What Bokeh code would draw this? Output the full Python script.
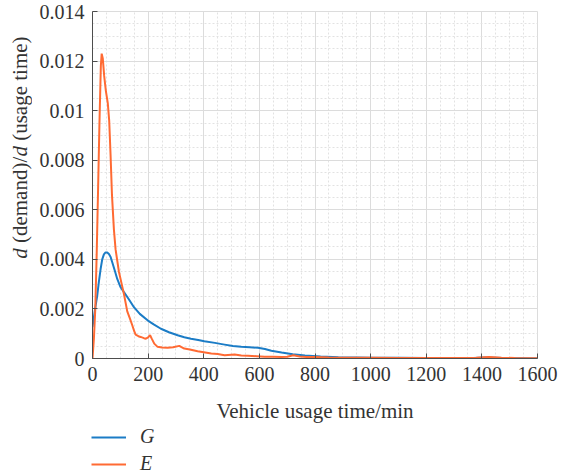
from math import pi

from bokeh.embed import file_html
from bokeh.layouts import column, row
from bokeh.models import FixedTicker, Legend, LegendItem
from bokeh.plotting import figure
from bokeh.resources import INLINE

# Demand density per minute of vehicle usage time, two vehicle groups
usage_g = [0, 8, 17, 23, 29, 35, 41, 47, 53, 59,
           65, 71, 80, 89, 100, 113, 130, 149, 170, 198,
           220, 246, 275, 306, 330, 354, 380, 402, 440, 475,
           505, 535, 565, 595, 620, 643, 680, 720, 764, 820,
           884, 950, 1005, 1100, 1200, 1300, 1370, 1410, 1450, 1500,
           1550, 1600]
demand_g = [0.00127, 0.0019, 0.00254, 0.0031, 0.0036, 0.0040, 0.0042, 0.00428, 0.00428, 0.00422,
            0.0041, 0.00388, 0.00355, 0.00321, 0.0029, 0.00268, 0.0024, 0.00207, 0.0018, 0.00154,
            0.00138, 0.0012, 0.00106, 0.00094, 0.00086, 0.0008, 0.00075, 0.0007, 0.00063, 0.00056,
            0.0005, 0.00047, 0.00045, 0.00043, 0.00038, 0.00031, 0.00024, 0.00017, 0.00012, 0.00008,
            0.00005, 0.00004, 0.00003, 0.00003, 0.00002, 0.00002, 0.00002, 0.00004, 0.00003, 0.00001,
            0.00001, 0.0]

usage_e = [0, 5, 10, 15, 20, 25, 30, 33, 37, 42,
           48, 55, 60, 65, 70, 77, 83, 95, 105, 113,
           125, 135, 143, 150, 155, 165, 173, 185, 192, 200,
           207, 213, 222, 234, 250, 270, 290, 312, 320, 330,
           350, 378, 400, 427, 450, 475, 511, 535, 559, 590,
           619, 650, 680, 700, 722, 745, 770, 800, 850, 900,
           1000, 1100, 1200, 1300, 1380, 1426, 1470, 1520, 1600]
demand_e = [0.0, 0.0008, 0.002, 0.0042, 0.0068, 0.0095, 0.0118, 0.0123, 0.0121, 0.0114,
            0.0108, 0.0103, 0.0096, 0.0082, 0.0066, 0.0052, 0.0044, 0.0035, 0.0030, 0.0026,
            0.0019, 0.0016, 0.00134, 0.0011, 0.00096, 0.0009, 0.00087, 0.00082, 0.0008, 0.00085,
            0.00094, 0.0008, 0.0006, 0.00047, 0.00044, 0.00043, 0.00045, 0.00051, 0.00046, 0.0004,
            0.00036, 0.00029, 0.00025, 0.0002, 0.00018, 0.00013, 0.00016, 0.00012, 0.00011, 0.00009,
            0.00007, 0.00007, 0.00006, 0.00007, 0.00013, 0.00008, 0.00006, 0.00006, 0.00004, 0.00003,
            0.00003, 0.00002, 0.00002, 0.00002, 0.00003, 0.00006, 0.00003, 0.00002, 0.00001]

series_names = ["G", "E"]
series_colors = ["#1b7cc6", "#ff6a33"]

x_ticks = [0, 200, 400, 600, 800, 1000, 1200, 1400, 1600]
x_tick_labels = ["0", "200", "400", "600", "800", "1000", "1200", "1400", "1600"]
y_ticks = [0, 0.002, 0.004, 0.006, 0.008, 0.01, 0.012, 0.014]
y_tick_labels = ["0", "0.002", "0.004", "0.006", "0.008", "0.01", "0.012", "0.014"]
x_minor = list(range(0, 1601, 50))
y_minor = [i * 0.0005 for i in range(29)]

x_label = "Vehicle usage time/min"
# y title pieces: (text, font style, advance width in px at 21px Liberation Serif,
#                  space after the piece)
y_label_parts = [("d", "italic", 10.5, 5.25), ("(demand)/", "normal", 86.3, 0.5),
                 ("d", "italic", 10.5, 5.25), ("(usage time)", "normal", 104.4, 0.0)]

SERIF = "Liberation Serif"
AXIS_GREY = "#4d4d4d"
TEXT = "#333333"

PAGE_W, PAGE_H = 565, 475
STRIP_W = 32          # column holding the rotated y title
CHART_H = 425         # main chart height; the legend strip fills the rest
LEGEND_H = PAGE_H - CHART_H
BORDER_TOP, BORDER_BOTTOM = 11, 66
FRAME_H = CHART_H - BORDER_TOP - BORDER_BOTTOM


def bare(fig):
    fig.outline_line_color = None
    fig.background_fill_color = "white"
    fig.border_fill_color = "white"
    fig.grid.visible = False
    return fig


# ---- main chart -----------------------------------------------------------
p = figure(width=PAGE_W - STRIP_W, height=CHART_H,
           x_range=(0, 1600), y_range=(0, 0.014),
           output_backend="svg", toolbar_location=None,
           min_border_left=92 - STRIP_W, min_border_right=28,
           min_border_top=BORDER_TOP, min_border_bottom=BORDER_BOTTOM)

p.xaxis.ticker = FixedTicker(ticks=x_ticks, minor_ticks=x_minor)
p.yaxis.ticker = FixedTicker(ticks=y_ticks, minor_ticks=y_minor)
p.xaxis.major_label_overrides = dict(zip(x_ticks, x_tick_labels))
p.yaxis.major_label_overrides = dict(zip(y_ticks, y_tick_labels))

for ax in (p.xaxis[0], p.yaxis[0]):
    ax.axis_line_color = AXIS_GREY
    ax.axis_line_width = 1
    ax.major_tick_line_color = AXIS_GREY
    ax.major_tick_in = 5
    ax.major_tick_out = 0
    ax.minor_tick_in = 0
    ax.minor_tick_out = 0
    ax.major_label_text_font = SERIF
    ax.major_label_text_font_size = "20px"
    ax.major_label_text_color = TEXT
    ax.major_label_standoff = 8

p.xaxis.axis_label = x_label
p.xaxis.axis_label_text_font = SERIF
p.xaxis.axis_label_text_font_size = "21px"
p.xaxis.axis_label_text_font_style = "normal"
p.xaxis.axis_label_text_color = TEXT
p.xaxis.axis_label_standoff = 15

for g in (p.xgrid[0], p.ygrid[0]):
    g.grid_line_color = "#dcdcdc"
    g.grid_line_width = 1
    g.minor_grid_line_color = "#e2e2e2"
    g.minor_grid_line_dash = "2 2"
    g.minor_grid_line_width = 1

p.outline_line_color = "#dcdcdc"
p.background_fill_color = "white"
p.border_fill_color = "white"

p.line(usage_g, demand_g, line_color=series_colors[0], line_width=2)
p.line(usage_e, demand_e, line_color=series_colors[1], line_width=2)

# ---- rotated y title (differentials in italic) ----------------------------
# same top/bottom borders as the chart, so its frame spans the chart's frame;
# the y range is in pixels measured up from the chart's x axis
t = bare(figure(width=STRIP_W, height=CHART_H,
                x_range=(0, STRIP_W), y_range=(0, FRAME_H),
                output_backend="svg", toolbar_location=None,
                x_axis_location=None, y_axis_location=None,
                min_border_left=0, min_border_right=0,
                min_border_top=BORDER_TOP, min_border_bottom=BORDER_BOTTOM))

pos = 100.0
for txt, style, w, after in y_label_parts:
    t.text(x=[19], y=[pos], text=[txt], angle=pi / 2,
           text_font={"value": SERIF}, text_font_style=style,
           text_font_size="21px", text_color=TEXT,
           text_align="left", text_baseline="middle")
    pos += w + after

# ---- legend strip under the chart -----------------------------------------
# the key renderers reuse the series but sit outside this strip's y range
lf = bare(figure(width=PAGE_W, height=LEGEND_H,
                 x_range=(0, 1), y_range=(1, 2),
                 output_backend="svg", toolbar_location=None,
                 x_axis_location=None, y_axis_location=None,
                 min_border=0))
key_g = lf.line(usage_g, demand_g, line_color=series_colors[0], line_width=2)
key_e = lf.line(usage_e, demand_e, line_color=series_colors[1], line_width=2)
legend = Legend(
    items=[LegendItem(label=series_names[0], renderers=[key_g]),
           LegendItem(label=series_names[1], renderers=[key_e])],
    location=(91, 0), orientation="vertical",
    padding=0, margin=0, spacing=4,
    glyph_width=35, glyph_height=20, label_standoff=14, label_height=20,
    label_text_font=SERIF, label_text_font_style="italic",
    label_text_font_size="20px", label_text_color=TEXT,
    background_fill_alpha=0, border_line_alpha=0,
)
lf.add_layout(legend)

layout = column(row(t, p, spacing=0), lf, spacing=0)
open("out.html", "w").write(file_html(layout, INLINE))
